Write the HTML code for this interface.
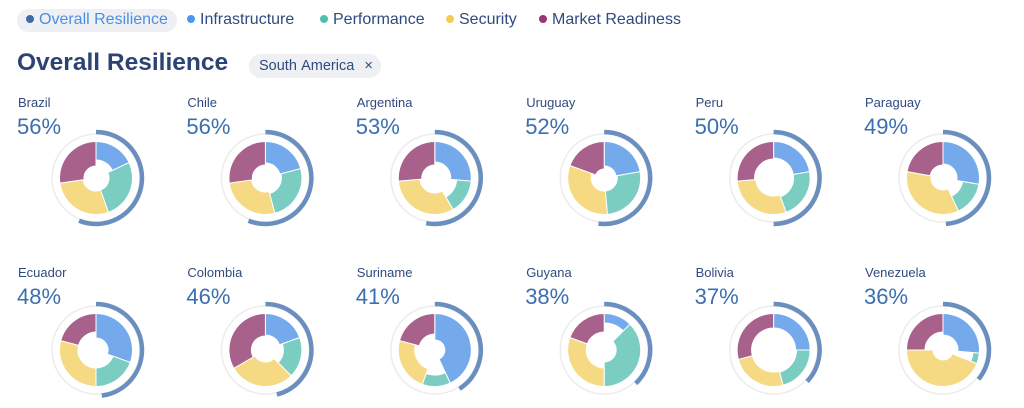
<!DOCTYPE html>
<html><head><meta charset="utf-8"><style>
body{margin:0;width:1024px;height:408px;background:#fff;font-family:"Liberation Sans",sans-serif;overflow:hidden;position:relative}
.lg{position:absolute;top:9px;height:22px;line-height:22px;font-size:16px;color:#2f4a80;white-space:nowrap}
.dot{display:inline-block;width:8px;height:8px;border-radius:50%;margin-right:5px;vertical-align:1px}
.pill{position:absolute;left:17px;top:9px;width:160px;height:23px;background:#eef0f4;border-radius:12px}
.title{position:absolute;left:17px;top:49px;font-size:24.5px;font-weight:bold;color:#2d4373}
.tag{position:absolute;left:249px;top:54px;height:24px;line-height:24px;padding:0 8px 0 10px;background:#eef0f4;border-radius:12px;font-size:14.5px;color:#2f4a80;word-spacing:1px}
.nm{position:absolute;font-size:13px;color:#2f4a80}
.pc{position:absolute;font-size:22px;color:#3b6fb0}
</style></head><body>
<div class="pill"></div>
<div class="lg" style="left:26px;color:#4a90e2"><span class="dot" style="background:#3d6ca8"></span>Overall Resilience</div>
<div class="lg" style="left:187px"><span class="dot" style="background:#4a98ec"></span>Infrastructure</div>
<div class="lg" style="left:320px"><span class="dot" style="background:#4fbfa8"></span>Performance</div>
<div class="lg" style="left:446px"><span class="dot" style="background:#f2cc55"></span>Security</div>
<div class="lg" style="left:539px"><span class="dot" style="background:#9b3470"></span>Market Readiness</div>
<div class="title">Overall Resilience</div>
<div class="tag">South America &nbsp;×</div>
<div id="c"></div>
<svg id="s" width="1024" height="408" style="position:absolute;left:0;top:0"></svg>
<script>
var D=[
["Brazil",56,[[65,18],[160,13],[262,13],[360,12]]],
["Chile",56,[[75,15],[165,16],[262,14],[360,13]]],
["Argentina",53,[[95,16],[150,22],[265,15],[360,13]]],
["Uruguay",52,[[80,12],[175,13],[290,13],[360,9]]],
["Peru",50,[[80,20],[160,20],[265,18],[360,19]]],
["Paraguay",49,[[100,14],[155,20],[280,12],[360,13]]],
["Ecuador",48,[[110,12],[180,18],[285,18],[360,18]]],
["Colombia",46,[[70,15],[135,18],[240,12],[360,14]]],
["Suriname",41,[[155,10],[200,25],[285,20],[360,16]]],
["Guyana",38,[[45,27],[180,12],[290,18],[360,18]]],
["Bolivia",37,[[90,22],[165,23],[255,22],[360,22]]],
["Venezuela",36,[[95,15],[112,30],[270,10],[360,18]]]];
var C=["#74aaeb","#7bcdc2","#f5d983","#a8618b"];
function p(cx,cy,r,a){a=(a-90)*Math.PI/180;return [cx+r*Math.cos(a),cy+r*Math.sin(a)];}
function seg(cx,cy,ro,ri,a0,a1){var l=(a1-a0>180)?1:0,A=p(cx,cy,ro,a0),B=p(cx,cy,ro,a1),E=p(cx,cy,ri,a1),F=p(cx,cy,ri,a0);
return "M"+A+"A"+ro+","+ro+" 0 "+l+" 1 "+B+"L"+E+"A"+ri+","+ri+" 0 "+l+" 0 "+F+"Z";}
var s="",h="";
D.forEach(function(d,i){var col=i%6,row=(i/6)|0;var cx=96+169.4*col,cy=row?350:178,lx=18+169.4*col,ly=row?265:95;
h+='<div class="nm" style="left:'+lx+'px;top:'+ly+'px">'+d[0]+'</div><div class="pc" style="left:'+(lx-1)+'px;top:'+(ly+19)+'px">'+d[1]+'%</div>';
s+='<circle cx="'+cx+'" cy="'+cy+'" r="44" fill="none" stroke="#ececec" stroke-width="1.5"/>';
var a0=0;d[2].forEach(function(g,k){s+='<path d="'+seg(cx,cy,36.5,g[1],a0,g[0])+'" fill="'+C[k]+'" stroke="#fff" stroke-width="1"/>';a0=g[0];});
var e=d[1]*3.6,A=p(cx,cy,46,0),B=p(cx,cy,46,e);
s+='<path d="M'+A+'A46,46 0 '+(e>180?1:0)+' 1 '+B+'" fill="none" stroke="#6a8fbf" stroke-width="4.5"/>';});
document.getElementById("s").innerHTML=s;document.getElementById("c").innerHTML=h;
</script>
</body></html>
